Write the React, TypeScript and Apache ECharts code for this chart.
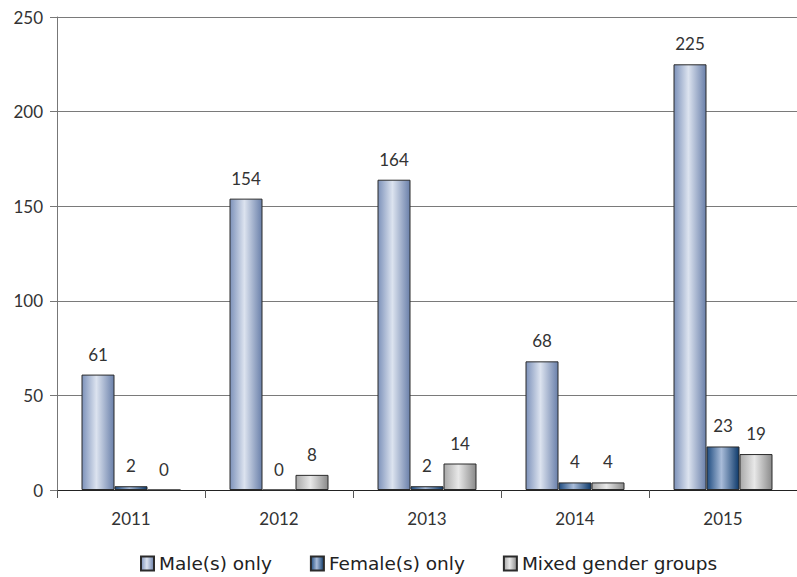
import React, { useEffect, useRef } from "react";
import * as echarts from "echarts";

const years = ["2011", "2012", "2013", "2014", "2015"];
const maleOnly = [61, 154, 164, 68, 225];
const femaleOnly = [2, 0, 2, 4, 23];
const mixedGroups = [0, 8, 14, 4, 19];
const seriesNames = ["Male(s) only", "Female(s) only", "Mixed gender groups"];

const FONT = "Lato, 'Open Sans', sans-serif";
const LEGEND_FONT = "'DejaVu Sans', sans-serif";

// Horizontal shading that gives each bar a rounded, cylinder-like look
function cylinder(left: string, mid: string, right: string) {
  return new echarts.graphic.LinearGradient(0, 0, 1, 0, [
    { offset: 0, color: left },
    { offset: 0.45, color: mid },
    { offset: 1, color: right },
  ]);
}

export default function App() {
  const ref = useRef<HTMLDivElement>(null);

  useEffect(() => {
    if (!ref.current) return;
    const chart = echarts.init(ref.current, undefined, { renderer: "svg" });

    const label = {
      show: true,
      position: "top" as const,
      distance: 12,
      fontFamily: FONT,
      fontSize: 17,
      color: "#333",
    };

    const makeSeries = (
      name: string,
      data: number[],
      left: string,
      mid: string,
      right: string
    ) => ({
      name,
      type: "bar" as const,
      data,
      barGap: "0%",
      barWidth: 33,
      itemStyle: {
        color: cylinder(left, mid, right),
        borderColor: "#2b2b2b",
        borderWidth: 1,
      },
      label,
    });

    chart.setOption({
      animation: false,
      backgroundColor: "#fff",
      textStyle: { fontFamily: FONT },
      grid: { left: 57, right: -8, top: 17, bottom: 87, containLabel: false },
      legend: {
        top: 549,
        left: 135,
        icon: "rect",
        itemWidth: 13,
        itemHeight: 14,
        itemGap: 38,
        textStyle: { fontFamily: LEGEND_FONT, fontSize: 18.5, color: "#222" },
        data: seriesNames,
      },
      xAxis: {
        type: "category",
        data: years,
        axisLine: { lineStyle: { color: "#222", width: 1 } },
        axisTick: { show: true, length: 8, lineStyle: { color: "#555" } },
        axisLabel: { fontFamily: FONT, fontSize: 17, color: "#333", margin: 20 },
      },
      yAxis: {
        type: "value",
        min: 0,
        max: 250,
        interval: 50,
        axisLine: { show: true, lineStyle: { color: "#777" } },
        axisTick: { show: true, length: 7, lineStyle: { color: "#777" } },
        axisLabel: { fontFamily: FONT, fontSize: 17, color: "#333", margin: 14 },
        splitLine: { lineStyle: { color: "#7a7a7a", width: 1 } },
      },
      series: [
        makeSeries(seriesNames[0], maleOnly, "#7d92ba", "#dce3ef", "#6a80aa"),
        makeSeries(seriesNames[1], femaleOnly, "#1f4c80", "#a9bcd9", "#0e3a6b"),
        makeSeries(seriesNames[2], mixedGroups, "#a8a8a8", "#e8e8e8", "#8a8a8a"),
      ],
    });

    return () => chart.dispose();
  }, []);

  return (
    <div
      ref={ref}
      style={{ position: "fixed", left: 0, top: 0, width: 797, height: 577 }}
    />
  );
}
